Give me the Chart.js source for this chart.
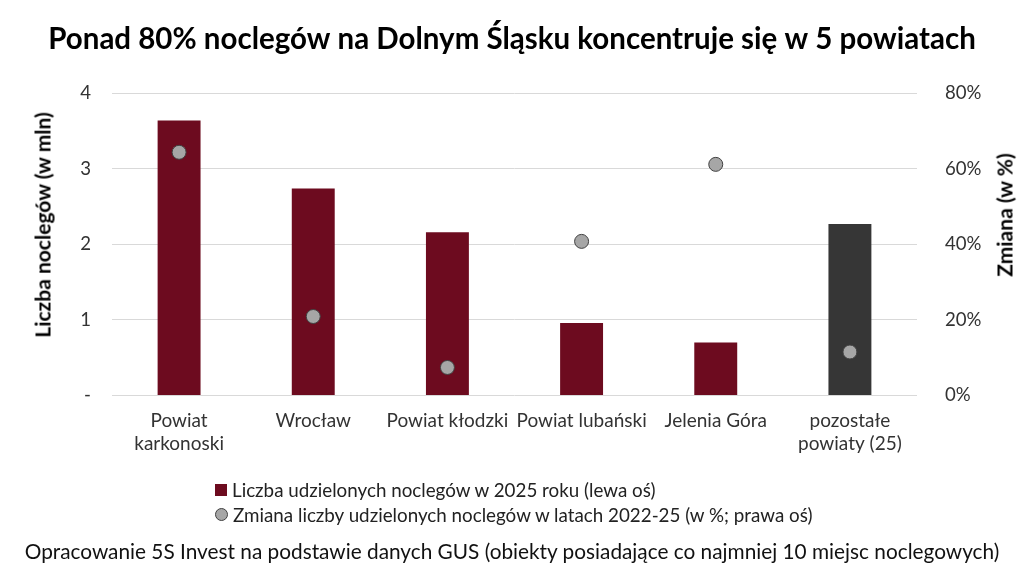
<!DOCTYPE html>
<html lang="pl">
<head>
    <meta charset="UTF-8">
    <title>Noclegi Dolny Śląsk</title>
    <script src="https://cdn.jsdelivr.net/npm/chart.js"></script>
    <style>
        body { margin: 0; background: #fff; font-family: Lato, sans-serif; }
        #wrap { position: relative; width: 1024px; height: 576px; overflow: hidden; }
        #legenda { position: absolute; left: 215px; top: 477px; font-size: 18.8px; color: #222; line-height: 25px; }
        #legenda div { display: flex; align-items: center; }
        .kw { width: 12px; height: 12px; background: #6d0b1f; margin-right: 5px; }
        .kolo { width: 11px; height: 11px; border-radius: 50%; background: #a6a6a6; border: 1px solid #404040; margin-right: 5px; }
        #zrodlo { position: absolute; left: 0; width: 1024px; top: 538px; text-align: center; font-size: 20.8px; color: #111; }
        .tytulOsi { position: absolute; font-size: 21px; font-weight: bold; color: #000; white-space: nowrap;
                    transform: translate(-50%, -50%) rotate(-90deg); }
    </style>
</head>
<body>
<div id="wrap">
    <canvas id="wykres" width="1024" height="576"></canvas>
    <div class="tytulOsi" style="left:42px; top:225px;">Liczba noclegów (w mln)</div>
    <div class="tytulOsi" style="left:1004px; top:215px;">Zmiana (w %)</div>
    <div id="legenda">
        <div><span class="kw"></span>Liczba udzielonych noclegów w 2025 roku (lewa oś)</div>
        <div><span class="kolo"></span>Zmiana liczby udzielonych noclegów w latach 2022-25 (w %; prawa oś)</div>
    </div>
    <div id="zrodlo">Opracowanie 5S Invest na podstawie danych GUS (obiekty posiadające co najmniej 10 miejsc noclegowych)</div>
</div>
<script>
    // dane
    const powiaty = [
        ["Powiat", "karkonoski"],
        "Wrocław",
        "Powiat kłodzki",
        "Powiat lubański",
        "Jelenia Góra",
        ["pozostałe", "powiaty (25)"]
    ];
    const noclegi = [3.64, 2.74, 2.16, 0.96, 0.70, 2.27];   // mln
    const zmiana = [64.4, 20.9, 7.4, 40.8, 61.2, 11.5];     // %
    const kolorySlupkow = ["#6d0b1f", "#6d0b1f", "#6d0b1f", "#6d0b1f", "#6d0b1f", "#363636"];
    const ticksLewa = ["-", "1", "2", "3", "4"];

    const ctx = document.getElementById("wykres").getContext("2d");

    new Chart(ctx, {
        type: "bar",
        data: {
            labels: powiaty,
            datasets: [
                {
                    type: "line",
                    label: "Zmiana liczby udzielonych noclegów w latach 2022-25 (w %; prawa oś)",
                    data: zmiana,
                    yAxisID: "y2",
                    showLine: false,
                    pointRadius: 7,
                    pointBackgroundColor: "#a6a6a6",
                    pointBorderColor: "#404040",
                    pointBorderWidth: 1,
                    order: 0
                },
                {
                    label: "Liczba udzielonych noclegów w 2025 roku (lewa oś)",
                    data: noclegi,
                    yAxisID: "y",
                    backgroundColor: kolorySlupkow,
                    barPercentage: 0.32,
                    categoryPercentage: 1,
                    order: 1
                }
            ]
        },
        options: {
            responsive: false,
            animation: false,
            layout: { padding: { left: 0, right: 0, top: 0, bottom: 115 } },
            plugins: {
                legend: { display: false },
                tooltip: { enabled: false },
                title: {
                    display: true,
                    text: "Ponad 80% noclegów na Dolnym Śląsku koncentruje się w 5 powiatach",
                    color: "#000",
                    font: { family: "Lato", size: 29.5, weight: "bold" },
                    padding: { top: 22, bottom: 36 }
                }
            },
            scales: {
                x: {
                    grid: { display: false },
                    border: { display: false },
                    ticks: { color: "#333", font: { family: "Lato", size: 19 }, maxRotation: 0, padding: 6 }
                },
                y: {
                    position: "left",
                    min: 0,
                    max: 4,
                    grid: { color: "#d9d9d9", drawTicks: false },
                    border: { display: false },
                    afterFit: (s) => { s.width = 112; },
                    ticks: {
                        stepSize: 1,
                        color: "#333",
                        padding: 21,
                        font: { family: "Lato", size: 18.6 },
                        callback: (v) => ticksLewa[v]
                    }
                },
                y2: {
                    position: "right",
                    min: 0,
                    max: 80,
                    grid: { display: false },
                    border: { display: false },
                    afterFit: (s) => { s.width = 107; },
                    ticks: {
                        stepSize: 20,
                        color: "#333",
                        padding: 20,
                        font: { family: "Lato", size: 18.6 },
                        callback: (v) => v + "%"
                    }
                }
            }
        }
    });
</script>
</body>
</html>
